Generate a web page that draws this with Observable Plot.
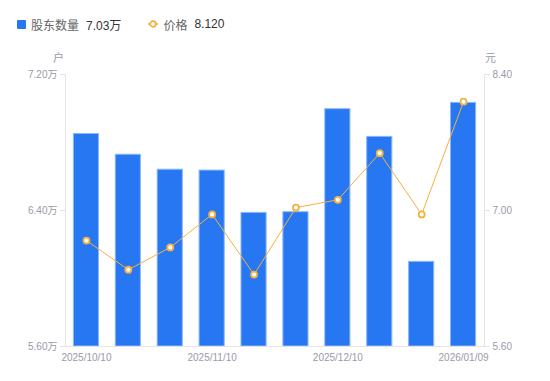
<!DOCTYPE html>
<html><head><meta charset="utf-8">
<script src="https://cdn.jsdelivr.net/npm/d3@7"></script>
<script src="https://cdn.jsdelivr.net/npm/@observablehq/plot@0.6"></script>
<style>
body{margin:0;background:#fff;font-family:"Liberation Sans","Noto Sans CJK SC",sans-serif;}
#wrap{position:relative;width:550px;height:381px;}
#legend{position:absolute;left:0;top:14px;height:20px;font-size:12px;display:flex;align-items:center;}
.lg{display:flex;align-items:center;}
.lbl{color:#666;margin-left:5px;}
.val{color:#333;margin-left:7px;}
.unit{position:absolute;top:49px;font-size:11px;color:#9a9aa8;}
</style></head>
<body><div id="wrap">
<div id="legend">
 <div class="lg" style="margin-left:17px"><span style="display:inline-block;width:9px;height:9px;background:#2877f2;border-radius:1px"></span><span class="lbl">股东数量</span><span class="val" id="v1"></span></div>
 <div class="lg" style="margin-left:27px"><svg width="10" height="10"><line x1="0" y1="5" x2="10" y2="5" stroke="#f5b13d" stroke-width="1.5"/><circle cx="5" cy="5" r="2.8" fill="#fff" stroke="#f5b13d" stroke-width="1.8"/></svg><span class="lbl">价格</span><span class="val" id="v2"></span></div>
</div>
<span class="unit" style="left:53px">户</span>
<span class="unit" style="left:485px">元</span>
<div id="chart"></div>
</div>
<script>
const dates = ["2025/10/10","2025/10/20","2025/10/31","2025/11/10","2025/11/20","2025/11/28","2025/12/10","2025/12/19","2025/12/31","2026/01/09"];
const holders = [6.850, 6.728, 6.640, 6.635, 6.386, 6.390, 6.996, 6.833, 6.098, 7.033]; // 万户
const prices = [6.69, 6.39, 6.62, 6.96, 6.34, 7.03, 7.11, 7.59, 6.96, 8.12];
const leftTicks = [5.6, 6.4, 7.2];
const rightTicks = [5.6, 7.0, 8.4];
const xTickLabels = ["2025/10/10","2025/11/10","2025/12/10","2026/01/09"];

const lMin = leftTicks[0], lMax = leftTicks[leftTicks.length-1];
const rMin = rightTicks[0], rMax = rightTicks[rightTicks.length-1];
const toLeft = p => lMin + (p - rMin) * (lMax - lMin) / (rMax - rMin);
const toRight = v => rMin + (v - lMin) * (rMax - rMin) / (lMax - lMin);

const data = dates.map((d,i)=>({date:d, holders:holders[i], price:prices[i], py:toLeft(prices[i])}));

document.getElementById("v1").textContent = holders[holders.length-1].toFixed(2)+"万";
document.getElementById("v2").textContent = prices[prices.length-1].toFixed(3);

const orange = "#f5b13d";
const chart = Plot.plot({
  width:550, height:381,
  marginLeft:65, marginRight:66, marginTop:74, marginBottom:35,
  style:{fontFamily:"'Liberation Sans','Noto Sans CJK SC',sans-serif", fontSize:"10px", color:"#9a9aa8", background:"#fff"},
  x:{type:"band", domain:dates, paddingInner:0.4, paddingOuter:0.2, round:false, axis:null},
  y:{domain:[lMin,lMax], axis:null},
  marks:[
    Plot.barY(data,{x:"date", y1:()=>lMin, y2:"holders", fill:"#2877f2", stroke:"#8ab8fb", strokeWidth:1}),
    Plot.ruleY([lMin],{stroke:"#e3e3e8"}),
    Plot.frame({anchor:"left", stroke:"#e3e3e8"}),
    Plot.frame({anchor:"right", stroke:"#e3e3e8"}),
    Plot.axisY(leftTicks,{anchor:"left", tickSize:5, tickPadding:3, stroke:"#e3e3e8", fill:"#9a9aa8", fontSize:10, tickFormat:d=>d.toFixed(2)+"万", label:null}),
    Plot.axisY(leftTicks,{anchor:"right", tickSize:5, tickPadding:3, stroke:"#e3e3e8", fill:"#9a9aa8", fontSize:10, tickFormat:d=>toRight(d).toFixed(2), label:null}),
    Plot.axisX(xTickLabels,{anchor:"bottom", tickSize:0, tickPadding:7, fill:"#9a9aa8", fontSize:10, label:null}),
    Plot.line(data,{x:"date", y:"py", stroke:orange, strokeWidth:1}),
    Plot.dot(data,{x:"date", y:"py", r:3, fill:"#fff", stroke:orange, strokeWidth:1.8})
  ]
});
document.getElementById("chart").append(chart);
</script>
</body></html>
